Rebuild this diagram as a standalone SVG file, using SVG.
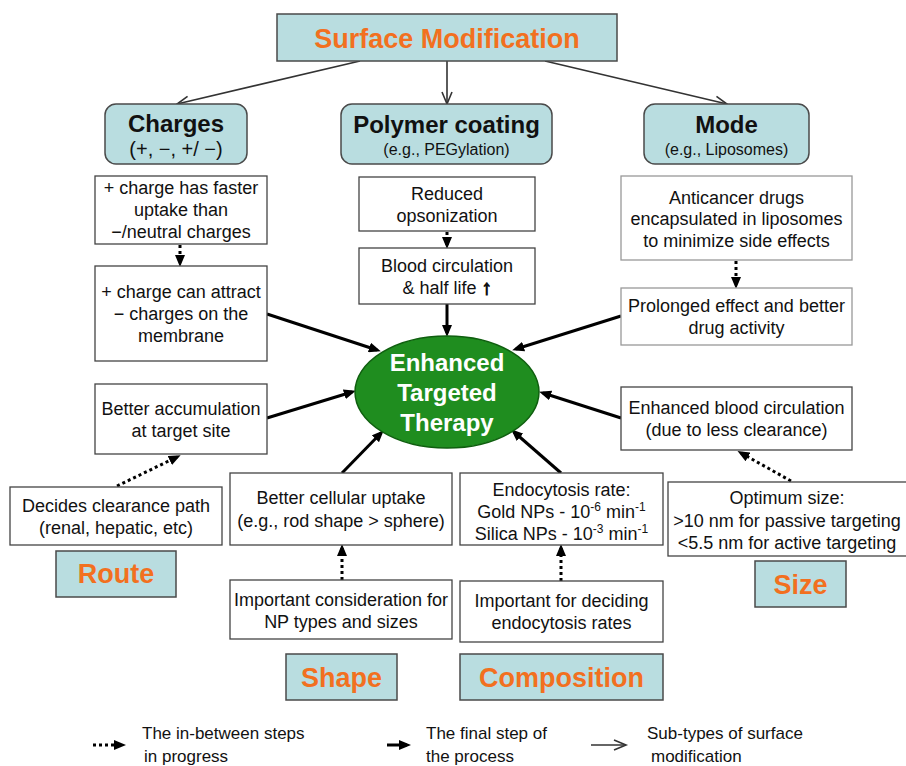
<svg xmlns="http://www.w3.org/2000/svg" width="906" height="766" viewBox="0 0 906 766">
<style>
text{font-family:"Liberation Sans",Arial,sans-serif;fill:#111;text-anchor:middle}
.teal{fill:#b9dde0;stroke:#4a4a4a;stroke-width:1.5}
.box{fill:#fff;stroke:#444;stroke-width:1.3}
.lbox{fill:#fff;stroke:#999;stroke-width:1.3}
.t{font-size:18px}
.hd{font-size:24px;font-weight:bold}
.sub{font-size:16px}
.or{font-size:27px;font-weight:bold;fill:#f2701f}
.thin{stroke:#333;stroke-width:1.6;fill:none;marker-end:url(#open)}
.bold{stroke:#000;stroke-width:3;fill:none;marker-end:url(#solid)}
.dot{stroke:#000;stroke-width:3;fill:none;stroke-dasharray:3 3;marker-end:url(#solid)}
.lg{font-size:17px;text-anchor:start}
</style>
<defs>
<marker id="open" markerUnits="userSpaceOnUse" markerWidth="14" markerHeight="12" viewBox="0 0 14 12" refX="13" refY="6" orient="auto" style="overflow:visible">
<path d="M1,1 L13,6 L1,11" fill="none" stroke="#333" stroke-width="1.6"/>
</marker>
<marker id="solid" markerUnits="userSpaceOnUse" markerWidth="12" markerHeight="10" viewBox="0 0 12 10" refX="8" refY="5" orient="auto">
<path d="M0,0 L12,5 L0,10 z" fill="#000"/>
</marker>
</defs>
<rect width="906" height="766" fill="#fff"/>

<g id="connectors">
<line class="thin" x1="360" y1="61" x2="177" y2="104"/>
<line class="thin" x1="447" y1="61" x2="447" y2="104"/>
<line class="thin" x1="545" y1="61" x2="727" y2="104"/>
<line class="dot" x1="180" y1="245" x2="180" y2="263"/>
<line class="bold" x1="267" y1="314" x2="377" y2="350"/>
<line class="bold" x1="267" y1="418" x2="352" y2="392"/>
<line class="dot" x1="117" y1="486" x2="177" y2="457"/>
<line class="dot" x1="447" y1="232" x2="447" y2="245"/>
<line class="bold" x1="447" y1="304" x2="447" y2="333"/>
<line class="dot" x1="736" y1="261" x2="736" y2="285"/>
<line class="bold" x1="621" y1="316" x2="516" y2="349"/>
<line class="bold" x1="621" y1="418" x2="543" y2="393"/>
<line class="dot" x1="791" y1="481" x2="741" y2="453"/>
<line class="bold" x1="342" y1="473" x2="381" y2="433"/>
<line class="dot" x1="342" y1="580" x2="342" y2="548"/>
<line class="bold" x1="561" y1="473" x2="514" y2="432"/>
<line class="dot" x1="561" y1="581" x2="561" y2="548"/>
</g>

<g id="n-title"><rect class="teal" x="277" y="14" width="340" height="47"/><text class="or" x="447" y="48">Surface Modification</text></g>

<g id="n-charges"><rect class="teal" x="105" y="104" width="142" height="60" rx="11"/><text class="hd" x="176" y="132">Charges</text><text x="176" y="156" style="font-size:20px">(+, −, +/ −)</text></g>
<g id="n-polymer"><rect class="teal" x="341" y="104" width="211" height="60" rx="11"/><text class="hd" x="446.5" y="133">Polymer coating</text><text class="sub" x="446.5" y="155">(e.g., PEGylation)</text></g>
<g id="n-mode"><rect class="teal" x="644" y="104" width="165" height="60" rx="11"/><text class="hd" x="726.5" y="133">Mode</text><text class="sub" x="726.5" y="155">(e.g., Liposomes)</text></g>

<g id="n-charge1"><rect class="box" x="95" y="176" width="172" height="68"/><text class="t" x="181" y="194">+ charge has faster</text><text class="t" x="181" y="216">uptake than</text><text class="t" x="181" y="238">−/neutral charges</text></g>
<g id="n-charge2"><rect class="box" x="95" y="266" width="172" height="95"/><text class="t" x="181" y="298">+ charge can attract</text><text class="t" x="181" y="320">− charges on the</text><text class="t" x="181" y="342">membrane</text></g>
<g id="n-accum"><rect class="box" x="95" y="384" width="172" height="70"/><text class="t" x="181" y="415">Better accumulation</text><text class="t" x="181" y="437">at target site</text></g>
<g id="n-clear"><rect class="box" x="10" y="487" width="212" height="58"/><text class="t" x="116" y="512">Decides clearance path</text><text class="t" x="116" y="534">(renal, hepatic, etc)</text></g>
<g id="n-route"><rect class="teal" x="56" y="551" width="120" height="46"/><text class="or" x="116" y="583">Route</text></g>

<g id="n-reduced"><rect class="box" x="359" y="177" width="176" height="54"/><text class="t" x="447" y="200">Reduced</text><text class="t" x="447" y="222">opsonization</text></g>
<g id="n-blood"><rect class="box" x="359" y="248" width="176" height="56"/><text class="t" x="447" y="272">Blood circulation</text><text class="t" x="447" y="294">&amp; half life <tspan font-weight="bold" font-size="20" stroke="#111" stroke-width="1.2">↑</tspan></text></g>

<g id="n-center"><ellipse cx="447" cy="392" rx="92" ry="56" fill="#1f8d1f" stroke="#0f5f0f" stroke-width="1.5"/><text x="447" y="371" style="font-size:24px;font-weight:bold;fill:#fff">Enhanced</text><text x="447" y="401" style="font-size:24px;font-weight:bold;fill:#fff">Targeted</text><text x="447" y="431" style="font-size:24px;font-weight:bold;fill:#fff">Therapy</text></g>

<g id="n-anticancer"><rect class="lbox" x="621" y="176" width="231" height="84"/><text class="t" x="736.5" y="204">Anticancer drugs</text><text class="t" x="736.5" y="225">encapsulated in liposomes</text><text class="t" x="736.5" y="247">to minimize side effects</text></g>
<g id="n-prolonged"><rect class="lbox" x="621" y="288" width="231" height="57"/><text class="t" x="736.5" y="312">Prolonged effect and better</text><text class="t" x="736.5" y="334">drug activity</text></g>
<g id="n-enhblood"><rect class="box" x="621" y="387" width="231" height="63"/><text class="t" x="736.5" y="414">Enhanced blood circulation</text><text class="t" x="736.5" y="436">(due to less clearance)</text></g>
<g id="n-optimum"><rect class="box" x="668" y="482" width="240" height="74"/><text class="t" x="787" y="504">Optimum size:</text><text class="t" x="787" y="527">&gt;10 nm for passive targeting</text><text class="t" x="787" y="549">&lt;5.5 nm for active targeting</text></g>
<g id="n-size"><rect class="teal" x="755" y="561" width="91" height="46"/><text class="or" x="800.5" y="594">Size</text></g>

<g id="n-cellular"><rect class="box" x="230" y="473" width="222" height="72"/><text class="t" x="341" y="504">Better cellular uptake</text><text class="t" x="341" y="527">(e.g., rod shape &gt; sphere)</text></g>
<g id="n-npconsid"><rect class="box" x="230" y="580" width="222" height="59"/><text class="t" x="341" y="606">Important consideration for</text><text class="t" x="341" y="628">NP types and sizes</text></g>
<g id="n-shape"><rect class="teal" x="286" y="654" width="111" height="46"/><text class="or" x="341.5" y="687">Shape</text></g>

<g id="n-endo"><rect class="box" x="460" y="473" width="203" height="72"/><text class="t" x="561.5" y="496">Endocytosis rate:</text><text class="t" x="561.5" y="518">Gold NPs - 10<tspan dy="-7" font-size="12">-6</tspan><tspan dy="7"> min</tspan><tspan dy="-7" font-size="12">-1</tspan></text><text class="t" x="561.5" y="540">Silica NPs - 10<tspan dy="-7" font-size="12">-3</tspan><tspan dy="7"> min</tspan><tspan dy="-7" font-size="12">-1</tspan></text></g>
<g id="n-endodecide"><rect class="box" x="460" y="581" width="203" height="61"/><text class="t" x="561.5" y="607">Important for deciding</text><text class="t" x="561.5" y="629">endocytosis rates</text></g>
<g id="n-composition"><rect class="teal" x="460" y="654" width="203" height="46"/><text class="or" x="561.5" y="687">Composition</text></g>

<g id="legend">
<line class="dot" x1="93" y1="745" x2="122" y2="745"/>
<text class="lg" x="142" y="739">The in-between steps</text><text class="lg" x="144" y="762">in progress</text>
<line class="bold" x1="387" y1="745" x2="407" y2="745"/>
<text class="lg" x="426" y="739">The final step of</text><text class="lg" x="426" y="762">the process</text>
<line class="thin" x1="591" y1="745" x2="626" y2="745"/>
<text class="lg" x="647" y="739">Sub-types of surface</text><text class="lg" x="651" y="762">modification</text>
</g>
</svg>
